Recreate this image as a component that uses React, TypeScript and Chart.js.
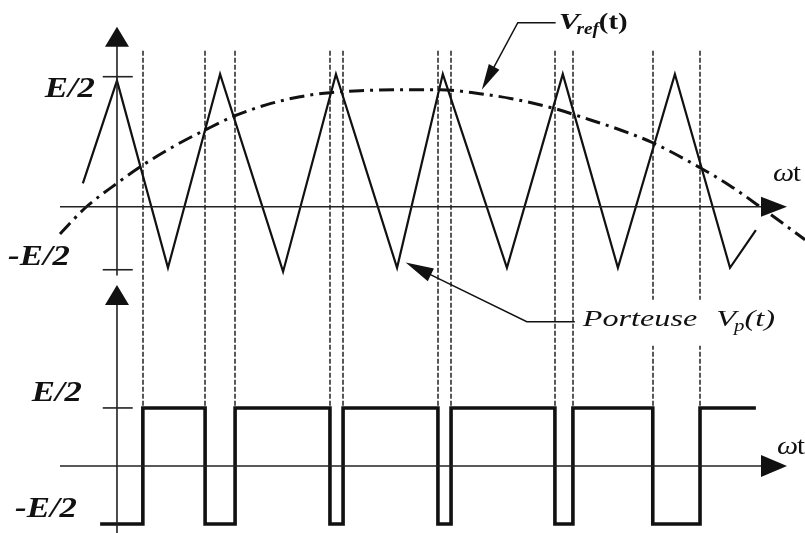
import React, { useEffect, useRef } from 'react';
import { Chart, registerables } from 'chart.js';

Chart.register(...registerables);

// ---- scale windows (ωt in degrees, amplitude in units of E/2) ----
const X_MIN = -31.2;
const X_MAX = 183.5;
const TOP_MIN = -2.51;
const TOP_MAX = 1.59;
const BOT_MIN = -1.155;
const BOT_MAX = 8.03;

// ---- carrier (triangle) vertices ----
const CARRIER_T = [-9.1, 0, 13.6, 27.5, 44.3, 58.4, 74.7, 86.9, 104.0, 118.9, 133.6, 148.8, 163.5, 170.4];
const CARRIER_V = [0.18, 0.97, -0.47, 1.02, -0.5, 1.02, -0.47, 1.02, -0.47, 1.02, -0.47, 1.02, -0.47, -0.18];

// ---- reference (modulating) wave samples ----
const REF_T = [-15.2, -8.5, 0, 6.9, 15.5, 23.5, 31.5, 40.0, 48.8, 56.8, 64.8, 75.5, 86.1, 96.8, 105.3, 116.8, 126.1, 134.1, 142.9, 155.5, 163.5, 171.5, 183.5];
const REF_V = [-0.21, -0.01, 0.18, 0.32, 0.47, 0.59, 0.7, 0.785, 0.846, 0.877, 0.892, 0.9, 0.9, 0.869, 0.831, 0.754, 0.669, 0.592, 0.492, 0.3, 0.162, 0.0, -0.254];

// ---- switching instants (intersections) ----
const SWITCH_T = [6.9, 23.5, 31.5, 56.8, 60.3, 85.6, 89.1, 116.8, 121.6, 142.9, 155.5];
const PWM_START_T = -4.5;
const PWM_END_T = 170.4;
const PWM_START_LEVEL = -1;

// ---- axes ----
const AXIS_T_START = -15.2;
const AXIS_T_END = 178.7;
const TOP_VAXIS = [-0.53, 1.385];
const BOT_VAXIS = [-1.155, 3.12];
const TICK_T = [-3.8, 4.2];
const TOP_TICK_VALUES = [1, -0.485];
const TOP_TICK_LABELS = ['E/2', '-E/2'];
const BOT_TICK_VALUES = [1, -1];
const BOT_TICK_LABELS = ['E/2', '-E/2'];
const DASH_TOP = 1.2;

// ---- annotations ----
const VREF_TIP = { t: 97.3, v: 0.9 };
const VREF_ELBOW = { t: 106.9, v: 1.415 };
const VREF_END_T = 117.0;
const VP_TIP = { t: 77.0, v: -0.43 };
const VP_ELBOW = { t: 109.3, v: -0.885 };
const VP_END_T = 122.1;

const INK = '#111';
const SERIF = '"Liberation Serif", "Times New Roman", Tinos, Times, serif';

function xy(ts: number[], vs: number[]) {
  return ts.map((t, i) => ({ x: t, y: vs[i] }));
}

function pwmPoints() {
  const pts: { x: number; y: number }[] = [];
  let level = PWM_START_LEVEL;
  pts.push({ x: PWM_START_T, y: level });
  for (const t of SWITCH_T) {
    pts.push({ x: t, y: level });
    level = -level;
    pts.push({ x: t, y: level });
  }
  pts.push({ x: PWM_END_T, y: level });
  return pts;
}

function lineDs(data: any[], yAxisID: string, width: number, extra: any = {}) {
  return {
    data,
    yAxisID,
    borderColor: INK,
    borderWidth: width,
    pointRadius: 0,
    fill: false,
    tension: 0,
    ...extra,
  };
}

function stretchText(ctx: CanvasRenderingContext2D, text: string, x: number, y: number, font: string, sx: number, align: CanvasTextAlign = 'left') {
  ctx.save();
  ctx.font = font;
  ctx.textAlign = align;
  ctx.textBaseline = 'alphabetic';
  ctx.translate(x, y);
  ctx.scale(sx, 1);
  ctx.fillText(text, 0, 0);
  const w = ctx.measureText(text).width * sx;
  ctx.restore();
  return w;
}

function arrowHead(ctx: CanvasRenderingContext2D, tipX: number, tipY: number, fromX: number, fromY: number, len: number, half: number) {
  const a = Math.atan2(tipY - fromY, tipX - fromX);
  const bx = tipX - len * Math.cos(a);
  const by = tipY - len * Math.sin(a);
  const nx = -Math.sin(a) * half;
  const ny = Math.cos(a) * half;
  ctx.beginPath();
  ctx.moveTo(tipX, tipY);
  ctx.lineTo(bx + nx, by + ny);
  ctx.lineTo(bx - nx, by - ny);
  ctx.closePath();
  ctx.fill();
}

const decorPlugin = {
  id: 'decor',
  beforeDatasetsDraw(chart: any) {
    const { ctx, scales } = chart;
    const xs = scales.x, ys = scales.y, y2 = scales.y2;
    ctx.save();
    ctx.strokeStyle = '#222';
    ctx.lineWidth = 1.5;
    ctx.setLineDash([5, 2]);
    for (const t of SWITCH_T) {
      const x = Math.round(xs.getPixelForValue(t));
      ctx.beginPath();
      ctx.moveTo(x, ys.getPixelForValue(DASH_TOP));
      ctx.lineTo(x, y2.getPixelForValue(1));
      ctx.stroke();
    }
    ctx.restore();
  },
  afterDatasetsDraw(chart: any) {
    const { ctx, scales } = chart;
    const xs = scales.x, ys = scales.y, y2 = scales.y2;
    const x0 = xs.getPixelForValue(0);
    const xEnd = xs.getPixelForValue(AXIS_T_END);
    ctx.save();
    ctx.fillStyle = INK;
    ctx.strokeStyle = INK;

    // axis arrowheads
    const topTip = ys.getPixelForValue(TOP_VAXIS[1]);
    arrowHead(ctx, x0, topTip, x0, topTip + 30, 20, 12);
    const botTip = y2.getPixelForValue(BOT_VAXIS[1]);
    arrowHead(ctx, x0, botTip, x0, botTip + 30, 20, 12);
    const yz = ys.getPixelForValue(0);
    arrowHead(ctx, xEnd, yz, xEnd - 30, yz, 26, 10);
    const yz2 = y2.getPixelForValue(0);
    arrowHead(ctx, xEnd, yz2, xEnd - 30, yz2, 26, 11);

    // tick labels
    const labFont = `italic bold 29px ${SERIF}`;
    TOP_TICK_VALUES.forEach((v, i) => {
      const y = ys.getPixelForValue(v);
      const dx = i === 0 ? 22 : 47;
      const dy = i === 0 ? 20 : -5;
      stretchText(ctx, TOP_TICK_LABELS[i], x0 - dx, y + dy, labFont, 1.2, 'right');
    });
    BOT_TICK_VALUES.forEach((v, i) => {
      const y = y2.getPixelForValue(v);
      const dx = i === 0 ? 35 : 40;
      const dy = -7;
      stretchText(ctx, BOT_TICK_LABELS[i], x0 - dx, y + dy, labFont, 1.2, 'right');
    });

    // ωt labels
    const omFont = `italic 26px ${SERIF}`;
    const tFont = `26px ${SERIF}`;
    [yz - 26, yz2 - 12].forEach((by, i) => {
      const sx = xEnd - 14 + (i === 1 ? 4 : 0);
      const w = stretchText(ctx, 'ω', sx, by, omFont, 1.15);
      stretchText(ctx, 't', sx + w - 1, by, tFont, 1.1);
    });

    // Vref leader + label
    ctx.lineWidth = 1.5;
    const tipX = xs.getPixelForValue(VREF_TIP.t), tipY = ys.getPixelForValue(VREF_TIP.v);
    const elX = xs.getPixelForValue(VREF_ELBOW.t), elY = ys.getPixelForValue(VREF_ELBOW.v);
    const endX = xs.getPixelForValue(VREF_END_T);
    ctx.beginPath();
    ctx.moveTo(endX, elY);
    ctx.lineTo(elX, elY);
    ctx.lineTo(tipX + (elX - tipX) * 0.3, tipY + (elY - tipY) * 0.3);
    ctx.stroke();
    arrowHead(ctx, tipX, tipY, elX, elY, 26, 6);
    let lx = endX + 3;
    const base = elY + 6;
    lx += stretchText(ctx, 'V', lx, base, `italic bold 24px ${SERIF}`, 1.3);
    lx += stretchText(ctx, 'ref', lx - 3, base + 5, `italic bold 16px ${SERIF}`, 1.2) - 3;
    stretchText(ctx, '(t)', lx, base, `bold 24px ${SERIF}`, 1.2);

    // Porteuse leader + label
    const pTipX = xs.getPixelForValue(VP_TIP.t), pTipY = ys.getPixelForValue(VP_TIP.v);
    const pElX = xs.getPixelForValue(VP_ELBOW.t), pElY = ys.getPixelForValue(VP_ELBOW.v);
    const pEndX = xs.getPixelForValue(VP_END_T);
    ctx.beginPath();
    ctx.moveTo(pEndX, pElY);
    ctx.lineTo(pElX, pElY);
    ctx.lineTo(pTipX + (pElX - pTipX) * 0.2, pTipY + (pElY - pTipY) * 0.2);
    ctx.stroke();
    arrowHead(ctx, pTipX, pTipY, pElX, pElY, 28, 7);
    ctx.fillStyle = '#fff';
    ctx.fillRect(pEndX + 4, pElY - 22, 215, 46);
    ctx.fillStyle = INK;
    let px = pEndX + 8;
    const pb = pElY + 4;
    const pw = stretchText(ctx, 'Porteuse', px, pb, `italic 23px ${SERIF}`, 1.4);
    px += pw + 19;
    px += stretchText(ctx, 'V', px, pb, `italic 24px ${SERIF}`, 1.35);
    px += stretchText(ctx, 'p', px - 2, pb + 5, `italic 16px ${SERIF}`, 1.3) - 2;
    stretchText(ctx, '(t)', px, pb, `italic 24px ${SERIF}`, 1.35);

    ctx.restore();
  },
};

export default function App() {
  const ref = useRef<HTMLCanvasElement>(null);
  useEffect(() => {
    if (!ref.current) return;
    const axisW = 1.6;
    const axisEnd = AXIS_T_END - 5;
    const datasets: any[] = [
      // axes
      lineDs([{ x: AXIS_T_START, y: 0 }, { x: axisEnd, y: 0 }], 'y', axisW, { borderColor: '#222' }),
      lineDs([{ x: 0, y: TOP_VAXIS[0] }, { x: 0, y: TOP_VAXIS[1] - 0.1 }], 'y', axisW, { borderColor: '#222' }),
      lineDs([{ x: AXIS_T_START, y: 0 }, { x: axisEnd, y: 0 }], 'y2', axisW, { borderColor: '#222' }),
      lineDs([{ x: 0, y: BOT_VAXIS[0] }, { x: 0, y: BOT_VAXIS[1] - 0.2 }], 'y2', axisW, { borderColor: '#222' }),
      ...TOP_TICK_VALUES.map((v) => lineDs([{ x: TICK_T[0], y: v }, { x: TICK_T[1], y: v }], 'y', axisW, { borderColor: '#222' })),
      lineDs([{ x: TICK_T[0], y: BOT_TICK_VALUES[0] }, { x: TICK_T[1], y: BOT_TICK_VALUES[0] }], 'y2', axisW, { borderColor: '#222' }),
      // carrier
      lineDs(xy(CARRIER_T, CARRIER_V), 'y', 2.2),
      // reference
      lineDs(xy(REF_T, REF_V), 'y', 3, { borderDash: [15, 6, 3, 6], cubicInterpolationMode: 'monotone' }),
      // PWM output
      lineDs(pwmPoints(), 'y2', 3.6, { borderJoinStyle: 'miter', borderCapStyle: 'butt' }),
    ];
    const chart = new Chart(ref.current, {
      type: 'line',
      data: { datasets },
      options: {
        animation: false,
        responsive: false,
        devicePixelRatio: 1,
        layout: { padding: 0 },
        plugins: { legend: { display: false }, tooltip: { enabled: false } },
        events: [],
        scales: {
          x: { type: 'linear', min: X_MIN, max: X_MAX, display: false },
          y: { type: 'linear', min: TOP_MIN, max: TOP_MAX, display: false },
          y2: { type: 'linear', min: BOT_MIN, max: BOT_MAX, display: false },
        },
      },
      plugins: [decorPlugin],
    });
    return () => chart.destroy();
  }, []);
  return (
    <div style={{ position: 'fixed', left: 0, top: 0, width: 805, height: 533, background: '#fff' }}>
      <canvas ref={ref} width={805} height={533} style={{ display: 'block' }} />
    </div>
  );
}
